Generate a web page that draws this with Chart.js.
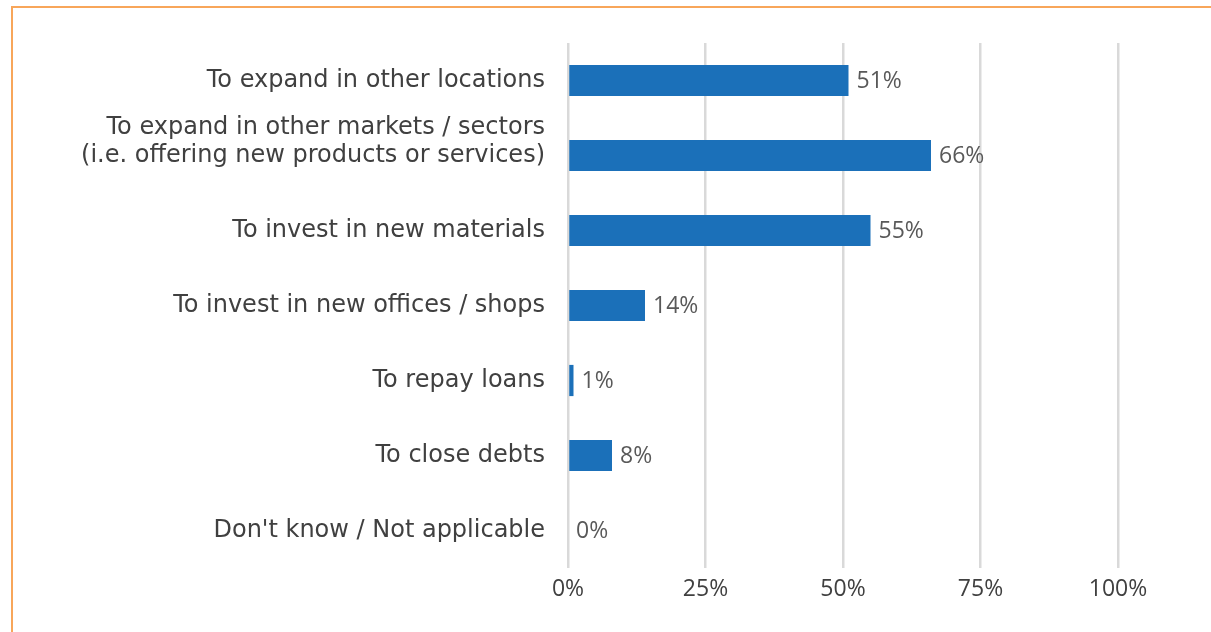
<!DOCTYPE html>
<html>
<head>
<meta charset="utf-8">
<script src="https://cdn.jsdelivr.net/npm/chart.js@4.4.1/dist/chart.umd.min.js"></script>
<style>
  html, body { margin: 0; padding: 0; background: #ffffff; overflow: hidden; }
  #wrap { position: relative; width: 1211px; height: 632px; }
  #frame {
    position: absolute; left: 11px; top: 6px; width: 1300px; height: 700px;
    border-left: 2px solid #F8A65A; border-top: 2px solid #F8A65A;
    pointer-events: none;
  }
  canvas { position: absolute; left: 0; top: 0; }
</style>
</head>
<body>
<div id="wrap">
  <canvas id="chart" width="1211" height="632"></canvas>
  <div id="frame"></div>
</div>
<script>
// Reasons given for using the funds
// (the two-line label carries a blank third line so its text sits a little higher)
const categories = [
  "To expand in other locations",
  ["To expand in other markets / sectors", "(i.e. offering new products or services)", ""],
  "To invest in new materials",
  "To invest in new offices / shops",
  "To repay loans",
  "To close debts",
  "Don't know / Not applicable"
];
const shares = [51, 66, 55, 14, 1, 8, 0];
const axisTicks = [0, 25, 50, 75, 100];

const LABEL_FONT = "'DejaVu Sans', sans-serif";
const NUM_FONT = "'Open Sans', 'DejaVu Sans', sans-serif";

// Percentage labels printed just past the end of each bar
const valueLabels = {
  id: 'valueLabels',
  afterDatasetsDraw(chart) {
    const ctx = chart.ctx;
    const meta = chart.getDatasetMeta(0);
    ctx.save();
    ctx.font = "23px " + NUM_FONT;
    ctx.fillStyle = '#595959';
    ctx.textAlign = 'left';
    ctx.textBaseline = 'middle';
    meta.data.forEach((bar, i) => {
      ctx.fillText(shares[i] + '%', bar.x + 8, bar.y + 1);
    });
    ctx.restore();
  }
};

new Chart(document.getElementById('chart'), {
  type: 'bar',
  data: {
    labels: categories,
    datasets: [{
      data: shares,
      backgroundColor: '#1B70B9',
      borderWidth: 0,
      categoryPercentage: 0.8,
      barPercentage: 0.52
    }]
  },
  options: {
    indexAxis: 'y',
    responsive: false,
    animation: false,
    layout: { padding: { top: 43, right: 93, left: 0, bottom: 0 } },
    plugins: { legend: { display: false }, tooltip: { enabled: false } },
    scales: {
      x: {
        min: 0, max: 100,
        afterBuildTicks(scale) { scale.ticks = axisTicks.map(v => ({ value: v })); },
        afterFit(scale) { scale.height = 64; },
        border: { display: false },
        grid: { color: '#D9D9D9', lineWidth: 2.5, drawTicks: false },
        ticks: {
          padding: 8,
          color: '#404040',
          font: { family: NUM_FONT, size: 23 },
          callback: v => v + '%'
        }
      },
      y: {
        afterFit(scale) { scale.width = 568; },
        border: { display: false },
        grid: { display: false, drawTicks: false },
        ticks: {
          autoSkip: false,
          padding: 23,
          color: '#404040',
          font: { family: LABEL_FONT, size: 24, lineHeight: 1.17 }
        }
      }
    }
  },
  plugins: [valueLabels]
});
</script>
</body>
</html>
